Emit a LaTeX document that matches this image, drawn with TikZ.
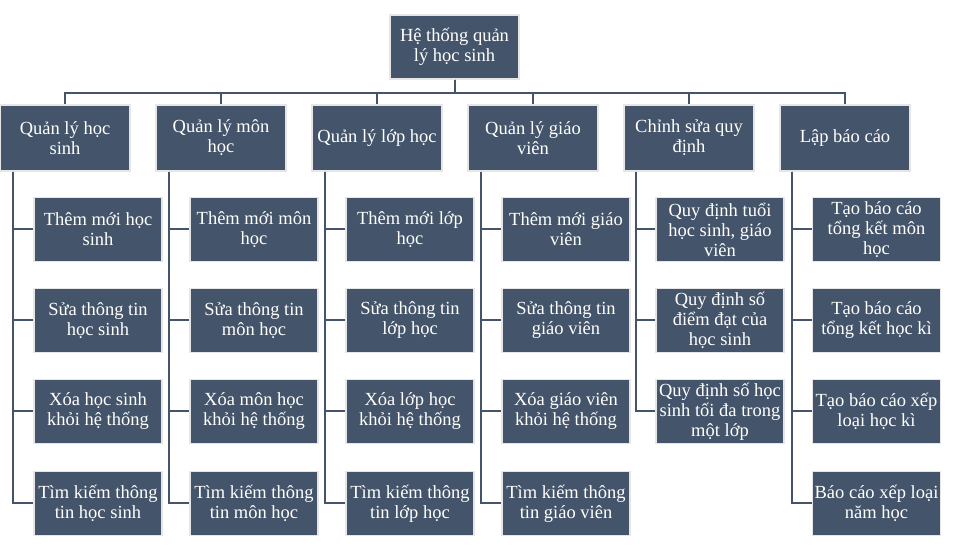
\documentclass[tikz,border=0pt]{standalone}
\usepackage{fontspec}
\setmainfont{Liberation Serif}
\definecolor{slate}{HTML}{44546A}
\definecolor{rim}{HTML}{E7E6E6}
\begin{document}
\begin{tikzpicture}[x=1pt, y=1pt,
	box/.style={draw=rim, line width=1.5pt, fill=slate, text=white, align=center,
		inner sep=1pt, font=\fontsize{18.5}{20}\selectfont},
	topbox/.style={box, minimum width=129pt, minimum height=64pt},
	headbox/.style={box, minimum width=130pt, minimum height=66pt},
	leafbox/.style={box, minimum width=128pt, minimum height=64pt},
	link/.style={draw=slate, line width=2pt}]
	\useasboundingbox (0, 0) rectangle (957, 556);
	% root
	\node[topbox] (root) at (454.5, 509) {Hệ thống quản\\lý học sinh};
	% first level
	\node[headbox] (hs) at (65, 418) {Quản lý học\\sinh};
	\node[headbox] (mh) at (221, 418) {Quản lý môn\\học};
	\node[headbox] (lh) at (377, 418) {Quản lý lớp học};
	\node[headbox] (gv) at (533, 418) {Quản lý giáo\\viên};
	\node[headbox] (qd) at (689, 418) {Chỉnh sửa quy\\định};
	\node[headbox] (bc) at (845, 418) {Lập báo cáo};
	% students
	\node[leafbox] (hs1) at (98, 326.5) {Thêm mới học\\sinh};
	\node[leafbox] (hs2) at (98, 235.5) {Sửa thông tin\\học sinh};
	\node[leafbox] (hs3) at (98, 144.5) {Xóa học sinh\\khỏi hệ thống};
	\node[leafbox] (hs4) at (98, 52.5) {Tìm kiếm thông\\tin học sinh};
	% subjects
	\node[leafbox] (mh1) at (254, 326.5) {Thêm mới môn\\học};
	\node[leafbox] (mh2) at (254, 235.5) {Sửa thông tin\\môn học};
	\node[leafbox] (mh3) at (254, 144.5) {Xóa môn học\\khỏi hệ thống};
	\node[leafbox] (mh4) at (254, 52.5) {Tìm kiếm thông\\tin môn học};
	% classes
	\node[leafbox] (lh1) at (410, 326.5) {Thêm mới lớp\\học};
	\node[leafbox] (lh2) at (410, 235.5) {Sửa thông tin\\lớp học};
	\node[leafbox] (lh3) at (410, 144.5) {Xóa lớp học\\khỏi hệ thống};
	\node[leafbox] (lh4) at (410, 52.5) {Tìm kiếm thông\\tin lớp học};
	% teachers
	\node[leafbox] (gv1) at (566, 326.5) {Thêm mới giáo\\viên};
	\node[leafbox] (gv2) at (566, 235.5) {Sửa thông tin\\giáo viên};
	\node[leafbox] (gv3) at (566, 144.5) {Xóa giáo viên\\khỏi hệ thống};
	\node[leafbox] (gv4) at (566, 52.5) {Tìm kiếm thông\\tin giáo viên};
	% rules
	\node[leafbox] (qd1) at (720, 326.5) {Quy định tuổi\\học sinh, giáo\\viên};
	\node[leafbox] (qd2) at (720, 235.5) {Quy định số\\điểm đạt của\\học sinh};
	\node[leafbox] (qd3) at (720, 144.5) {Quy định số học\\sinh tối đa trong\\một lớp};
	% reports
	\node[leafbox] (bc1) at (876.5, 326.5) {Tạo báo cáo\\tổng kết môn\\học};
	\node[leafbox] (bc2) at (876.5, 235.5) {Tạo báo cáo\\tổng kết học kì};
	\node[leafbox] (bc3) at (876.5, 144.5) {Tạo báo cáo xếp\\loại học kì};
	\node[leafbox] (bc4) at (876.5, 52.5) {Báo cáo xếp loại\\năm học};
	% bus below the root
	\foreach \head in {hs, mh, lh, gv, qd, bc}
		\draw[link] (root.south) -- ++(0, -13) -| (\head.north);
	% side rails
	\foreach \head in {hs, mh, lh, gv}
		\foreach \k in {1, 2, 3, 4}
			\draw[link] ([xshift=14pt]\head.south west) |- (\head\k.west);
	\foreach \k in {1, 2, 3}
		\draw[link] ([xshift=13pt]qd.south west) |- (qd\k.west);
	\foreach \k in {1, 2, 3, 4}
		\draw[link] ([xshift=13pt]bc.south west) |- (bc\k.west);
\end{tikzpicture}
\end{document}
